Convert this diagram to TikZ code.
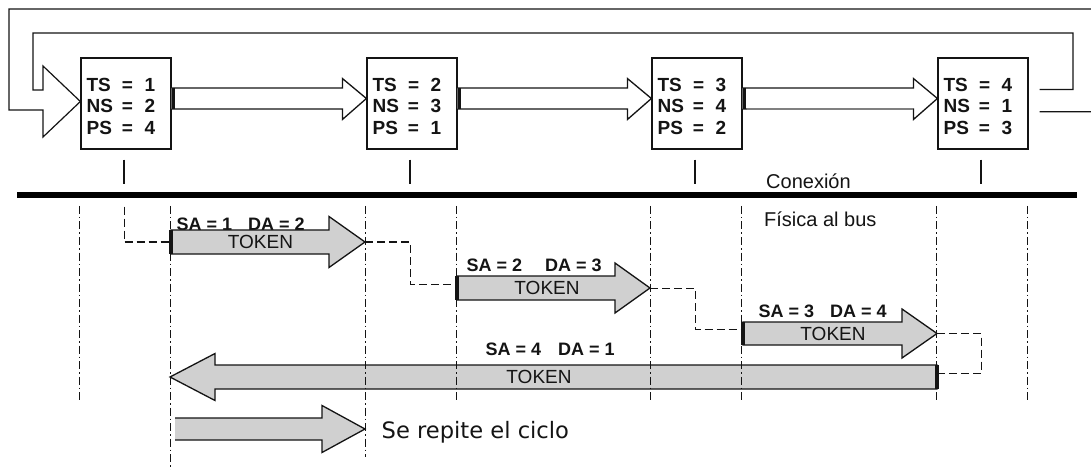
\documentclass[tikz,border=0pt]{standalone}
\usepackage{fontspec}
\setmainfont{Liberation Sans}
\newfontfamily\versans{DejaVu Sans}
\usetikzlibrary{calc}

\definecolor{tokengray}{RGB}{208,208,208}
\definecolor{ink}{RGB}{20,20,20}

% TS / NS / PS register table shown inside each station
\newcommand\stationtable[3]{%
  \begin{tabular}[t]{@{}l@{\hspace{9pt}}c@{\hspace{11.5pt}}l@{}}
    TS&=&#1\\ NS&=&#2\\ PS&=&#3
  \end{tabular}}

% hollow block arrow from station #1 to station #2
\newcommand\hollowarrow[2]{%
  \draw[hollow] ($(#1.east)+(0,-15.5)$) -- ($(#2.west)+(-24,-15.5)$)
    -- ($(#2.west)+(-24,-25)$) -- ($(#2.west)+(0,-5)$)
    -- ($(#2.west)+(-24,16)$) -- ($(#2.west)+(-24,5.5)$)
    -- ($(#1.east)+(0,5.5)$);
  \draw[startbar] ($(#1.east)+(2.2,-15.5)$) -- ($(#1.east)+(2.2,5.5)$);
}

% grey token arrow: #1 start, #2 tip, #3 head length (signed), #4 shaft half, #5 head half
\newcommand\tokenarrow[5]{%
  \filldraw[token] ($(#1)+(0,-#4)$) -- ($(#2)+({-(#3)},-#4)$)
    -- ($(#2)+({-(#3)},-#5)$) -- (#2) -- ($(#2)+({-(#3)},#5)$)
    -- ($(#2)+({-(#3)},#4)$) -- ($(#1)+(0,#4)$) -- cycle;
  \draw[startbar] ($(#1)+(0,-#4)$) -- ($(#1)+(0,#4)$);
}

\tikzset{
  station/.style={draw=ink, line width=1.2pt, minimum width=90pt,
    minimum height=91pt, inner sep=0pt},
  stationtext/.style={anchor=base west, inner sep=0pt, text=ink,
    font=\fontsize{19}{21.3}\selectfont\bfseries},
  hollow/.style={draw=ink, fill=white, line width=1.3pt, line join=miter},
  token/.style={draw=ink, fill=tokengray, line width=1.3pt, line join=miter},
  startbar/.style={draw=ink, line width=3.2pt},
  loopline/.style={draw=ink, line width=1.2pt, line join=miter},
  tick/.style={draw=ink, line width=1.2pt},
  busline/.style={draw=black, line width=6.5pt},
  dashdot/.style={draw=ink, line width=1pt,
    dash pattern=on 8pt off 3pt on 1.5pt off 3pt},
  hop/.style={draw=ink, line width=1pt, dash pattern=on 8pt off 4pt},
  addr/.style={anchor=base west, inner sep=0pt, text=ink,
    font=\fontsize{18}{20}\selectfont\bfseries},
  toktext/.style={inner sep=0pt, text=ink, font=\fontsize{19}{21}\selectfont},
  note/.style={anchor=base west, inner sep=0pt, text=ink,
    font=\fontsize{20}{22}\selectfont},
}

\begin{document}
\begin{tikzpicture}[x=1pt,y=-1pt]
\useasboundingbox (0,0) rectangle (1091,470);
\fill[white] (0,0) rectangle (1091,470);
\clip (0,0) rectangle (1091,470);

% ---- stations on the logical ring
\node[station] (b1) at (126,103.5) {};
\node[station] (b2) at (412,103.5) {};
\node[station] (b3) at (697,103.5) {};
\node[station] (b4) at (983,103.5) {};
\node[stationtext] (b1t) at ($(b1.north west)+(6,34.3)$) {\stationtable{1}{2}{4}};
\node[stationtext] (b2t) at ($(b2.north west)+(6,34.3)$) {\stationtable{2}{3}{1}};
\node[stationtext] (b3t) at ($(b3.north west)+(6,34.3)$) {\stationtable{3}{4}{2}};
\node[stationtext] (b4t) at ($(b4.north west)+(6,34.3)$) {\stationtable{4}{1}{3}};

% ---- logical ring: block arrows between neighbours
\hollowarrow{b1}{b2}
\hollowarrow{b2}{b3}
\hollowarrow{b3}{b4}
\draw[draw=gray, line width=1.5pt] ($(b3.east)+(4,5.5)$) -- ($(b4.west)+(-24.5,5.5)$);

% return path from the last station back to the first one
\draw[loopline] ($(b4.east)+(11,8.2)$) -- (1100,111.7) -- (1100,9) -- (9,9)
  -- (9,110) -- (43,110) -- (43,137) -- ($(b1.west)+(0,-2)$) -- (43,66)
  -- (43,90) -- (33,90) -- (33,33) -- (1073,33) -- (1073,89.5)
  -- ($(b4.east)+(11,-14)$);

% ---- physical bus and the taps of each station
\coordinate (busL) at (17,195);
\coordinate (busR) at (1077,195);
\draw[busline] (busL) -- (busR);
\foreach \b in {b1,b2,b3,b4}
  \draw[tick] ($(\b.south)+(-2,10)$) -- ($(\b.south)+(-2,34)$);

\node[note] (con) at (766,188.3) {Conexión};
\node[note] (fis) at (764,227) {Física al bus};

% ---- token passing sequence
\coordinate (t1s) at (171,242);   \coordinate (t1e) at (365,242);
\coordinate (t2s) at (457,288);   \coordinate (t2e) at (650,288);
\coordinate (t3s) at (743,333.5); \coordinate (t3e) at (937,333.5);
\coordinate (t4s) at (937,377);   \coordinate (t4e) at (170,377);
\coordinate (rps) at (175,429);   \coordinate (rpe) at (365,429);

% hand-over between successive frames
\draw[hop] ($(b1.south)+(-2,57)$) |- (t1s);
\draw[hop] (t1e) -| ($(t2s)+(-47,-4)$) -- ($(t2s)+(0,-4)$);
\draw[hop] (t2e) -| ($(t3s)+(-48,-4)$) -- ($(t3s)+(0,-4)$);
\draw[hop] (t3e) -| ($(t4s)+(44,-4)$) -- ($(t4s)+(0,-4)$);

% source / destination addresses
\node[addr] (sa1) at (176.5,231) {SA = 1\hspace{16pt}DA = 2};
\node[addr] (sa2) at (466.5,271) {SA = 2\hspace{23pt}DA = 3};
\node[addr] (sa3) at (758.5,317) {SA = 3\hspace{16pt}DA = 4};
\node[addr] (sa4) at (485.5,355) {SA = 4\hspace{17pt}DA = 1};

% token frames
\tokenarrow{t1s}{t1e}{36}{12}{25.5}
\tokenarrow{t2s}{t2e}{35}{12}{25}
\tokenarrow{t3s}{t3e}{35}{11.5}{24.5}
\tokenarrow{t4s}{t4e}{-45}{12}{23.5}

% the cycle starts again
\fill[tokengray] ($(rps)+(0,-11)$) -- ($(rpe)+(-43,-11)$) -- ($(rpe)+(-43,-23.5)$)
  -- (rpe) -- ($(rpe)+(-43,23.5)$) -- ($(rpe)+(-43,11)$) -- ($(rps)+(0,11)$) -- cycle;
\draw[token, fill=none] ($(rps)+(0,-11)$) -- ($(rpe)+(-43,-11)$) -- ($(rpe)+(-43,-23.5)$)
  -- (rpe) -- ($(rpe)+(-43,23.5)$) -- ($(rpe)+(-43,11)$) -- ($(rps)+(0,11)$);

\node[toktext] (k1) at (260.5,242) {TOKEN};
\node[toktext] (k2) at (547,288) {TOKEN};
\node[toktext] (k3) at (833,333.5) {TOKEN};
\node[toktext] (k4) at (539,377) {TOKEN};

\node[anchor=base west, inner sep=0pt, text=ink,
  font=\fontsize{22.6}{25}\selectfont\versans] (rep) at (381.5,438) {Se repite el ciclo};

% ---- time lines of the stations
\coordinate (ddtop) at (0,206);
\coordinate (ddbot) at (0,402);
\foreach \b/\a in {b1/west,b2/east,b3/west,b3/east,b4/west,b4/east}
  \draw[dashdot] ($(\b.\a |- ddtop)+(-1,0)$) -- ($(\b.\a |- ddbot)+(-1,0)$);
\draw[dashdot] ($(b1.east |- ddtop)+(-1,0)$) -- ($(b1.east |- ddtop)+(-1,270)$);
\draw[dashdot] ($(b2.west |- ddtop)+(-1,0)$) -- ($(b2.west |- ddtop)+(-1,251)$);
\end{tikzpicture}
\end{document}
